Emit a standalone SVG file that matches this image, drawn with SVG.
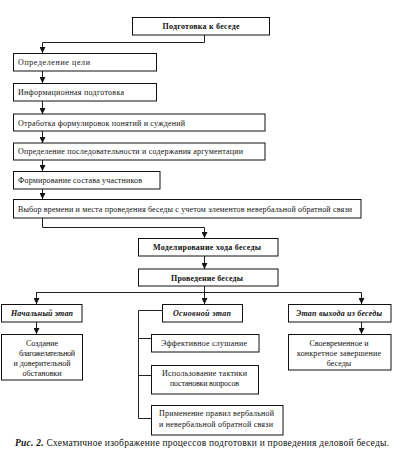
<svg xmlns="http://www.w3.org/2000/svg" width="400" height="454" viewBox="0 0 400 454">
<style>
rect{fill:#fff;stroke:#111;stroke-width:1}
.c path,.c line,.c polyline{fill:none;stroke:#222;stroke-width:1}
text{font-family:'Liberation Serif','DejaVu Serif',serif;font-size:8px;fill:#111}
.b{font-weight:bold}
.bi{font-weight:bold;font-style:italic}
.m{text-anchor:middle}
</style>
<defs>
<marker id="d" markerUnits="userSpaceOnUse" markerWidth="6" markerHeight="6" refX="3" refY="6" viewBox="0 0 6 6">
<path d="M0,0 L6,0 L3,6 Z" fill="#111"/>
</marker>
</defs>
<rect width="400" height="454" style="fill:#fff;stroke:none"/>
<g class="c" id="connectors">
<polyline points="204.5,35 204.5,42.5 42.5,42.5 42.5,53" marker-end="url(#d)"/>
<line x1="42.5" y1="71" x2="42.5" y2="83" marker-end="url(#d)"/>
<line x1="42.5" y1="101" x2="42.5" y2="114" marker-end="url(#d)"/>
<line x1="42.5" y1="131" x2="42.5" y2="143" marker-end="url(#d)"/>
<line x1="42.5" y1="160" x2="42.5" y2="171" marker-end="url(#d)"/>
<line x1="42.5" y1="189" x2="42.5" y2="199" marker-end="url(#d)"/>
<polyline points="42.5,218 42.5,227.5 204.5,227.5 204.5,238" marker-end="url(#d)"/>
<line x1="204.5" y1="256" x2="204.5" y2="269" marker-end="url(#d)"/>
<line x1="204.5" y1="286" x2="204.5" y2="292.5"/>
<line x1="36" y1="292.5" x2="361.5" y2="292.5"/>
<line x1="36.5" y1="292.5" x2="36.5" y2="304" marker-end="url(#d)"/>
<line x1="204.5" y1="292.5" x2="204.5" y2="304" marker-end="url(#d)"/>
<line x1="361.5" y1="292.5" x2="361.5" y2="304" marker-end="url(#d)"/>
<line x1="36.5" y1="322" x2="36.5" y2="334" marker-end="url(#d)"/>
<line x1="361.5" y1="322" x2="361.5" y2="334" marker-end="url(#d)"/>
<polyline points="162,310.5 138.5,310.5 138.5,418.5 151,418.5"/>
<line x1="138.5" y1="338.5" x2="151" y2="338.5"/>
<line x1="138.5" y1="375.5" x2="151" y2="375.5"/>
</g>
<g id="n1"><rect x="132.5" y="17.5" width="137" height="17.5"/><text class="b m" x="201" y="28.5" textLength="77">Подготовка к беседе</text></g>
<g id="n2"><rect x="13.5" y="53.5" width="143" height="17.5"/><text x="18" y="64.5" textLength="72">Определение цели</text></g>
<g id="n3"><rect x="13.5" y="83.5" width="143" height="17.5"/><text x="18" y="94.5" textLength="106">Информационная подготовка</text></g>
<g id="n4"><rect x="13.5" y="114" width="251.5" height="17"/><text x="18" y="125.5" textLength="167">Отработка формулировок понятий и суждений</text></g>
<g id="n5"><rect x="13.5" y="143" width="251.5" height="17"/><text x="18" y="154" textLength="225">Определение последовательности и содержания аргументации</text></g>
<g id="n6"><rect x="13.5" y="171.5" width="146.5" height="17.5"/><text x="18" y="182.5" textLength="124">Формирование состава участников</text></g>
<g id="n7"><rect x="13.5" y="199.5" width="347.5" height="18.5"/><text x="18" y="211.5" textLength="334">Выбор времени и места проведения беседы с учетом элементов невербальной обратной связи</text></g>
<g id="n8"><rect x="138.5" y="238.5" width="139.5" height="17.5"/><text class="b m" x="207" y="250" textLength="108">Моделирование хода беседы</text></g>
<g id="n9"><rect x="138.5" y="269" width="139.5" height="17"/><text class="b m" x="207" y="280.5" textLength="72">Проведение беседы</text></g>
<g id="n10"><rect x="1.5" y="304.5" width="80.5" height="17.5"/><text class="bi m" x="42" y="316" textLength="62">Начальный этап</text></g>
<g id="n11"><rect x="162.5" y="304.5" width="80" height="17.5"/><text class="bi m" x="202" y="316" textLength="58">Основной этап</text></g>
<g id="n12"><rect x="288.5" y="304.5" width="102.5" height="17.5"/><text class="bi m" x="339" y="316" textLength="86">Этап выхода из беседы</text></g>
<g id="n13"><rect x="1.5" y="334.5" width="81" height="45.5"/><text class="m" x="42" y="345.5">Создание</text><text class="m" x="47" y="355.5" textLength="56">благожелательной</text><text class="m" x="42" y="365.5">и доверительной</text><text class="m" x="42" y="375.5">обстановки</text></g>
<g id="n14"><rect x="151.5" y="334.5" width="107.5" height="17.5"/><text class="m" x="204" y="346" textLength="86">Эффективное слушание</text></g>
<g id="n15"><rect x="151.5" y="365.5" width="107" height="28.5"/><text class="m" x="204.5" y="375.5" textLength="85">Использование тактики</text><text class="m" x="204.5" y="386" textLength="69">постановки вопросов</text></g>
<g id="n16"><rect x="151.5" y="405.5" width="131.5" height="29.5"/><text class="m" x="216.5" y="416" textLength="115">Применение правил вербальной</text><text class="m" x="216" y="427" textLength="114">и невербальной обратной связи</text></g>
<g id="n17"><rect x="288.5" y="334.5" width="102.5" height="35.5"/><text class="m" x="339" y="345.5">Своевременное и</text><text class="m" x="339" y="356" textLength="84">конкретное завершение</text><text class="m" x="339" y="366">беседы</text></g>
<text x="15" y="446" style="font-size:9.5px" textLength="374"><tspan class="bi">Рис. 2.</tspan> Схематичное изображение процессов подготовки и проведения деловой беседы.</text>
</svg>
